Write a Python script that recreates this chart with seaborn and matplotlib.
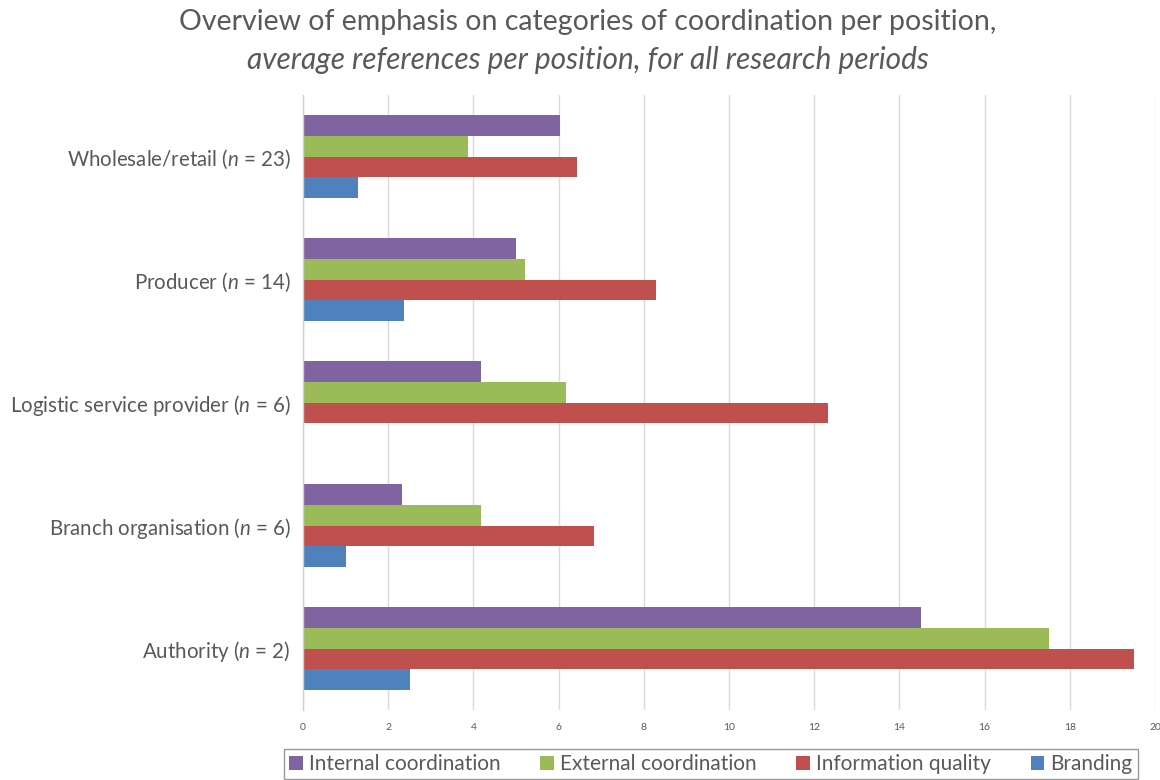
import matplotlib
matplotlib.use("Agg")
import matplotlib.pyplot as plt
import seaborn as sns
import pandas as pd
import numpy as np
from matplotlib.patches import Patch

positions = [
    "Wholesale/retail ($n$ = 23)",
    "Producer ($n$ = 14)",
    "Logistic service provider ($n$ = 6)",
    "Branch organisation ($n$ = 6)",
    "Authority ($n$ = 2)",
]
series = ["Internal coordination", "External coordination", "Information quality", "Branding"]
internal = [6.04, 5.00, 4.17, 2.33, 14.5]
external = [3.87, 5.21, 6.17, 4.17, 17.5]
info_quality = [6.43, 8.29, 12.33, 6.83, 19.5]
branding = [1.30, 2.36, 0.0, 1.00, 2.5]
x_ticks = [0, 2, 4, 6, 8, 10, 12, 14, 16, 18, 20]
colors = ["#8064A2", "#9BBB59", "#C0504D", "#4F81BD"]

rows = []
for s, vals in zip(series, [internal, external, info_quality, branding]):
    for p, v in zip(positions, vals):
        rows.append({"position": p, "series": s, "value": v})
df = pd.DataFrame(rows)

sns.set_theme(style="white")
plt.rcParams["font.family"] = ["Lato", "DejaVu Sans"]
plt.rcParams["mathtext.fontset"] = "custom"
plt.rcParams["mathtext.it"] = "Lato:italic"
plt.rcParams["mathtext.rm"] = "Lato"

grey = "#595959"
fig = plt.figure(figsize=(11.6, 7.8), dpi=100)
ax = fig.add_axes([303/1160, 1-710/780, (1155-303)/1160, (710-95)/780])

sns.barplot(data=df, y="position", x="value", hue="series", hue_order=series,
            order=positions, palette=colors, orient="h", width=0.68,
            ax=ax, legend=False, saturation=1, linewidth=0)

ax.set_xlim(0, 20)
ax.set_ylim(4.5, -0.5)
ax.set_xticks(x_ticks)
ax.set_xticklabels([str(t) for t in x_ticks])
ax.set_xlabel("")
ax.set_ylabel("")
ax.grid(axis="x", color="#D9D9D9", linewidth=1)
ax.set_axisbelow(True)
for s in ["top", "right", "bottom"]:
    ax.spines[s].set_visible(False)
ax.spines["left"].set_color("#D0D0D0")
ax.spines["left"].set_linewidth(1)

ax.tick_params(axis="x", length=0, labelsize=7.5, labelcolor=grey, pad=9)
ax.tick_params(axis="y", which="major", length=0, labelsize=14.8, labelcolor=grey, pad=9)
ax.set_yticks(np.arange(-0.5, 5.0, 1.0), minor=True)
ax.tick_params(axis="y", which="minor", length=5, color="#D0D0D0", width=1, direction="out")

fig.text(0.507, 1-22/780, "Overview of emphasis on categories of coordination per position,",
         ha="center", va="center", fontsize=20.5, color=grey)
fig.text(0.507, 1-60/780, "average references per position, for all research periods",
         ha="center", va="center", fontsize=21.5, color=grey, style="italic")

handles = [Patch(facecolor=c, edgecolor="none") for c in colors]
leg = fig.legend(handles, series, loc="center", bbox_to_anchor=(711/1160, 1-764/780),
                 ncol=4, frameon=True, fontsize=15, handlelength=0.65, handleheight=0.65,
                 handletextpad=0.3, columnspacing=1.9, borderpad=0.25, fancybox=False,
                 labelcolor=grey)
leg.get_frame().set_edgecolor("#808080")
leg.get_frame().set_linewidth(1)

fig.savefig("out.png", dpi=100)
